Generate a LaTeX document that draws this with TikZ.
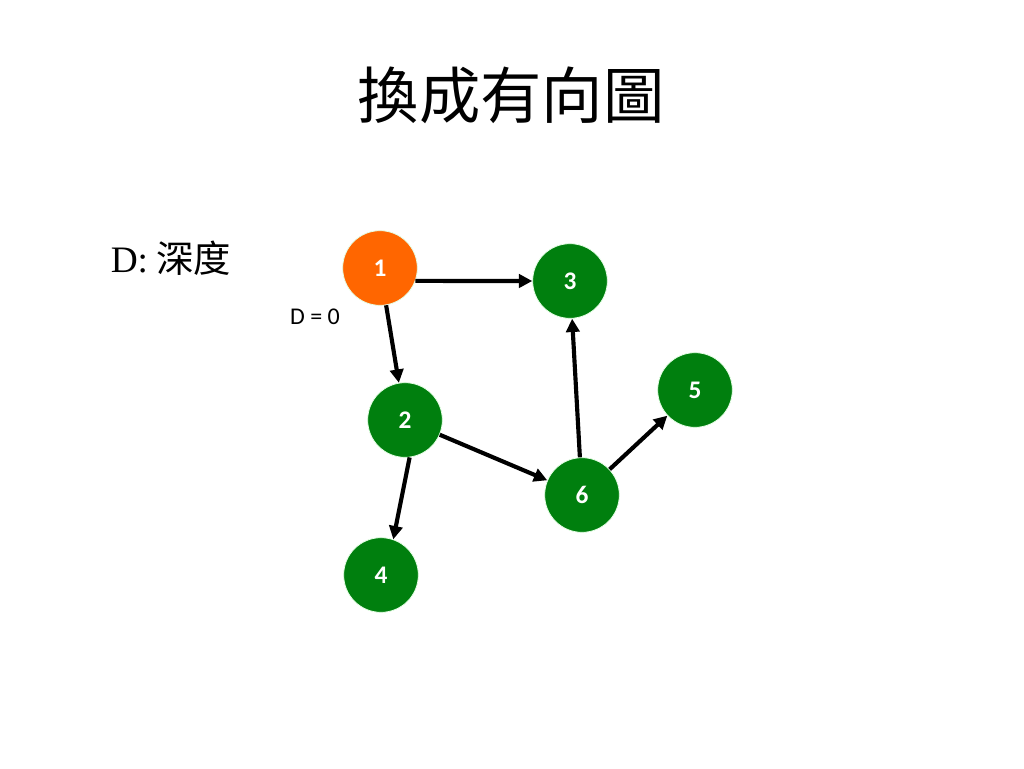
\documentclass[tikz,border=0pt]{standalone}
\usepackage{fontspec}
\setmainfont{Carlito}
\newfontfamily\cjk{Noto Sans CJK TC}
\newfontfamily\serifmono{Liberation Serif}
\usepackage{tikz}
\usetikzlibrary{arrows.meta}
\usepackage{xcolor}
\definecolor{rootorange}{HTML}{FF6600}
\definecolor{leafgreen}{HTML}{007F0E}

\begin{document}
\begin{tikzpicture}[
    x=0.75pt, y=-0.75pt,
    vertex/.style={circle, fill=leafgreen, draw=green!10!white, line width=0.6pt, minimum size=56pt, inner sep=0pt, text=white, font=\bfseries\fontsize{19}{21}\selectfont},
    arrow/.style={-{Triangle[length=10pt, width=10pt]}, line width=3.1pt}
]
\useasboundingbox (0,0) rectangle (1024,768);
\node[font=\cjk\fontsize{46}{50}\selectfont] (title) at (511,95) {換成有向圖};
\node[font=\fontsize{28}{30}\selectfont] (legend) at (171,258) {{\serifmono D:} {\cjk 深度}};
\node[font=\fontsize{18}{20}\selectfont] (depth) at (315,317) {D = 0};

\node[vertex, fill=rootorange] (v1) at (380,268) {1};
\node[vertex] (v3) at (570,281) {3};
\node[vertex] (v2) at (405,420) {2};
\node[vertex] (v6) at (582,495) {6};
\node[vertex] (v5) at (695,390) {5};
\node[vertex] (v4) at (381,575) {4};

\draw[arrow] (v1.-20) -- (v3.west);
\draw[arrow] (v1) -- (v2);
\draw[arrow] (v2.-83) -- (v4.71);
\draw[arrow] (v2) -- (v6);
\draw[arrow] (v6) -- (v3);
\draw[arrow] (v6) -- (v5);
\end{tikzpicture}
\end{document}
